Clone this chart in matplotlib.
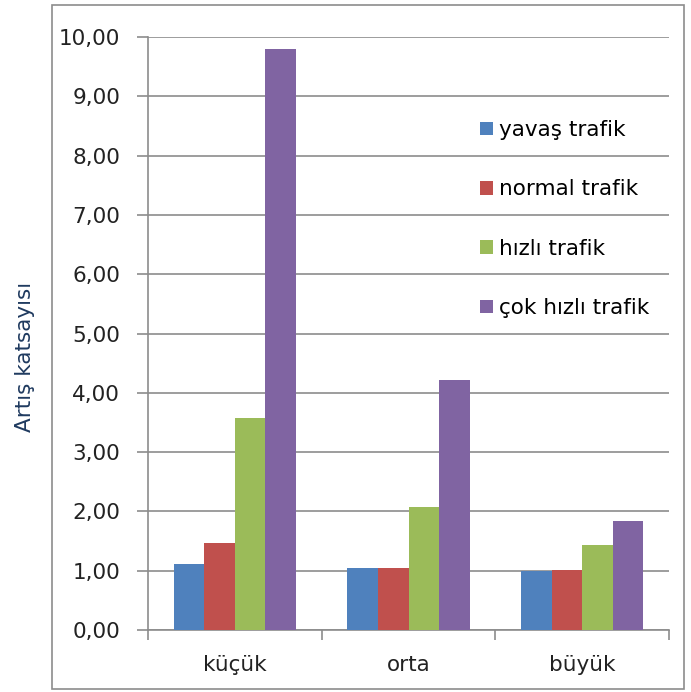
import numpy as np
import matplotlib
matplotlib.use("Agg")
import matplotlib.pyplot as plt
from matplotlib.patches import Rectangle

# veriler
kategoriler = ["küçük", "orta", "büyük"]
seriler = ["yavaş trafik", "normal trafik", "hızlı trafik", "çok hızlı trafik"]
yavas = [1.12, 1.05, 1.00]
normal = [1.46, 1.05, 1.02]
hizli = [3.57, 2.07, 1.43]
cok_hizli = [9.80, 4.22, 1.83]
y_ticks = [0, 1, 2, 3, 4, 5, 6, 7, 8, 9, 10]
renkler = ["#4F81BD", "#C0504D", "#9BBB59", "#8064A2"]

degerler = [yavas, normal, hizli, cok_hizli]

fig = plt.figure(figsize=(6.91, 6.92), dpi=100)
W, H = 691, 692

# dis cerceve
fig.patches.append(Rectangle((52 / W, 3 / H), (684 - 52) / W, (687 - 3) / H,
                             transform=fig.transFigure, fill=False,
                             edgecolor="#8C8C8C", linewidth=1.2))

ax = fig.add_axes([148 / W, 1 - 630 / H, (669 - 148) / W, (630 - 37) / H])

x = np.arange(len(kategoriler))
bar_w = 0.706 / 4
for i, (ad, vals) in enumerate(zip(seriler, degerler)):
    ax.bar(x - 0.353 + bar_w * (i + 0.5), vals, width=bar_w, color=renkler[i],
           label=ad, zorder=3, linewidth=0)

ax.set_xlim(-0.5, len(kategoriler) - 0.5)
ax.set_ylim(0, 10)
ax.set_yticks(y_ticks)
ax.set_yticklabels([f"{v:.2f}".replace(".", ",") for v in y_ticks], fontsize=15.5, color="#222222")
ax.yaxis.grid(True, color="#8C8C8C", linewidth=1.2, zorder=0)

ax.set_xticks(x)
ax.set_xticklabels(kategoriler, fontsize=15.5, color="#222222")
ax.tick_params(axis="x", length=0, pad=18)
ax.set_xticks(np.arange(-0.5, len(kategoriler)), minor=True)
ax.tick_params(axis="x", which="minor", length=7, color="#8C8C8C", width=1.2)
ax.tick_params(axis="y", length=8, color="#8C8C8C", width=1.2, pad=12)

for s in ["top", "right"]:
    ax.spines[s].set_visible(False)
for s in ["left", "bottom"]:
    ax.spines[s].set_color("#8C8C8C")
    ax.spines[s].set_linewidth(1.2)

fig.text(25 / W, 1 - 357 / H, "Artış katsayısı", rotation=90, fontsize=15.5,
         color="#1F3A5F", ha="center", va="center")

ax.legend(loc="upper left", bbox_to_anchor=(480 / W, 1 - 120 / H),
          bbox_transform=fig.transFigure, frameon=False, fontsize=15.5,
          handlelength=0.6, handleheight=0.6, handletextpad=0.3,
          labelspacing=1.83, borderaxespad=0, borderpad=0)

fig.savefig("out.png", dpi=100)
